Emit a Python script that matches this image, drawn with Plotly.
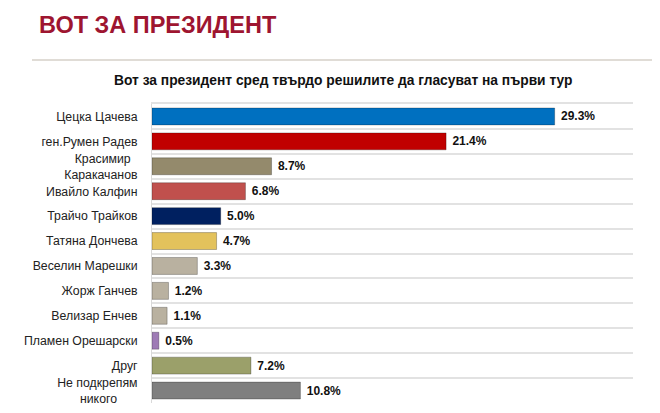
import plotly.graph_objects as go

# Daten: Vot za prezident (pyrvi tur)
# (die nbsp am Zeilenende zentrieren die zweizeiligen Namen wie im Original)
kandidati = ["Цецка Цачева", "ген.Румен Радев", "Красимир\u00a0\u00a0<br>Каракачанов",
             "Ивайло Калфин", "Трайчо Трайков", "Татяна Дончева", "Веселин Марешки",
             "Жорж Ганчев", "Велизар Енчев", "Пламен Орешарски", "Друг",
             "Не подкрепям<br>никого" + "\u00a0" * 6]
procenti = [29.3, 21.4, 8.7, 6.8, 5.0, 4.7, 3.3, 1.2, 1.1, 0.5, 7.2, 10.8]
farbi = ["#0070C0", "#C00000", "#948A6C", "#C0504D", "#002060", "#E3C25C",
         "#B9B1A0", "#B9B1A0", "#B9B1A0", "#9E7BB5", "#9BA06A", "#7F7F7F"]

fig = go.Figure(go.Bar(
    x=procenti, y=kandidati, orientation="h",
    marker=dict(color=farbi, line=dict(color="rgba(0,0,0,0.25)", width=1)),
    width=0.68,
    text=[f"\u00a0{p:.1f}%" for p in procenti], textposition="outside",
    textfont=dict(family="Liberation Sans", size=12, color="#111"),
    texttemplate="<b>%{text}</b>", cliponaxis=False,
))

# die Seite hat 8px body-margin, deshalb ist die Figur 8px kleiner
fig.update_layout(
    width=652, height=405,
    margin=dict(l=144, r=27, t=96, b=10),
    plot_bgcolor="white", paper_bgcolor="white",
    font=dict(family="Liberation Sans", color="#222"),
    showlegend=False,
    xaxis=dict(range=[0, 35], side="top", showgrid=False, showticklabels=False,
               zeroline=False, showline=True, linecolor="#E2E2E2", linewidth=1.5,
               automargin=False),
    yaxis=dict(type="category", autorange="reversed", tickson="boundaries", showgrid=True,
               gridcolor="#E2E2E2", gridwidth=1.5, ticks="outside", ticklen=0, showline=True,
               linecolor="#D9D9D9", linewidth=1, tickfont=dict(size=12.3, color="#222"),
               ticklabelstandoff=11, automargin=False),
    annotations=[
        dict(text="<b>ВОТ ЗА ПРЕЗИДЕНТ</b>", xref="paper", yref="paper",
             x=(37 - 152) / 481, y=(403 - 25) / 299, xanchor="left", yanchor="middle",
             showarrow=False, font=dict(size=23.5, color="#9E1530")),
        dict(text="<b>Вот за президент сред твърдо решилите да гласуват на първи тур</b>",
             xref="paper", yref="paper", x=(343 - 152) / 481, y=(403 - 80) / 299,
             xanchor="center", yanchor="middle", showarrow=False,
             font=dict(size=13.8, color="#111")),
    ],
    shapes=[dict(type="line", xref="paper", yref="paper",
                 x0=(32 - 152) / 481, x1=(660 - 152) / 481,
                 y0=(403 - 60) / 299, y1=(403 - 60) / 299,
                 line=dict(color="#D6D1C8", width=1.5))],
)

fig.write_html("out.html")
